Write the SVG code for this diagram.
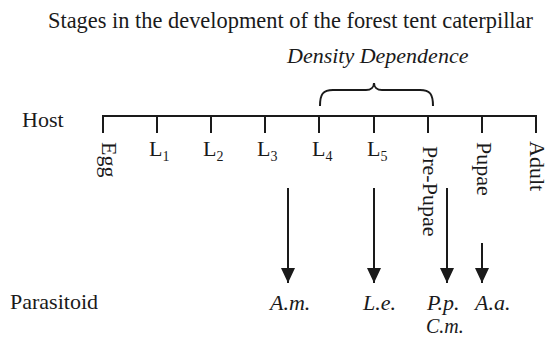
<svg xmlns="http://www.w3.org/2000/svg" width="552" height="338" viewBox="0 0 552 338" font-family="'Liberation Serif', 'Times New Roman', Times, serif">
<defs>
<style>
text{font-family:'Liberation Serif','Times New Roman',Times,serif;font-size:22px;fill:#1a1a1a}
.it{font-style:italic}
.sub{font-size:14px}
.ln{stroke:#1a1a1a;stroke-width:2;fill:none}
.ar{stroke:#1a1a1a;stroke-width:2;fill:none;marker-end:url(#ah)}
</style>
<marker id="ah" viewBox="0 0 15 14" refX="15" refY="7" markerWidth="15" markerHeight="14" orient="auto" markerUnits="userSpaceOnUse">
<path d="M0,0 L15,7 L0,14 z" fill="#1a1a1a"/>
</marker>
</defs>
<rect width="552" height="338" fill="#ffffff"/>
<text id="title" x="48" y="28" style="font-size:22.4px">Stages in the development of the forest tent caterpillar</text>
<g id="density">
<text class="it" x="287" y="63">Density Dependence</text>
<path class="ln" stroke-width="1.8" d="M320,106 C320,94 323,90 333,90 L366,90 C371,90 374,87 374,83 C374,87 377,90 382,90 L420,90 C430,90 433,94 433,106"/>
</g>
<g id="host">
<text x="22" y="127">Host</text>
<path class="ln" d="M103,116 H537 M103,115 V133 M157,116 V133 M211,116 V133 M265,116 V133 M319,116 V133 M374,116 V133 M428,116 V133 M482,116 V133 M536,115 V133"/>
</g>
<g id="egg"><text transform="translate(102,142) rotate(90)">Egg</text></g>
<g id="l1"><text x="149" y="156">L<tspan class="sub" dy="5">1</tspan></text></g>
<g id="l2"><text x="203" y="156">L<tspan class="sub" dy="5">2</tspan></text></g>
<g id="l3"><text x="257" y="156">L<tspan class="sub" dy="5">3</tspan></text></g>
<g id="l4"><text x="312" y="156">L<tspan class="sub" dy="5">4</tspan></text></g>
<g id="l5"><text x="367" y="156">L<tspan class="sub" dy="5">5</tspan></text></g>
<g id="prepupae"><text transform="translate(423,146) rotate(90)">Pre-Pupae</text></g>
<g id="pupae"><text transform="translate(477,142) rotate(90)">Pupae</text></g>
<g id="adult"><text transform="translate(530,141) rotate(90)">Adult</text></g>
<g id="connectors">
<path class="ar" d="M288,188 V283"/>
<path class="ar" d="M374,188 V283"/>
<path class="ar" d="M447,188 V283"/>
<path class="ar" d="M482,243 V283"/>
</g>
<g id="parasitoid"><text x="10" y="309">Parasitoid</text></g>
<g id="am"><text class="it" x="270" y="310">A.m.</text></g>
<g id="le"><text class="it" x="363" y="310">L.e.</text></g>
<g id="pp"><text class="it" x="427" y="310">P.p.</text><text class="it" x="426" y="333" style="font-size:20px">C.m.</text></g>
<g id="aa"><text class="it" x="475" y="310">A.a.</text></g>
</svg>
